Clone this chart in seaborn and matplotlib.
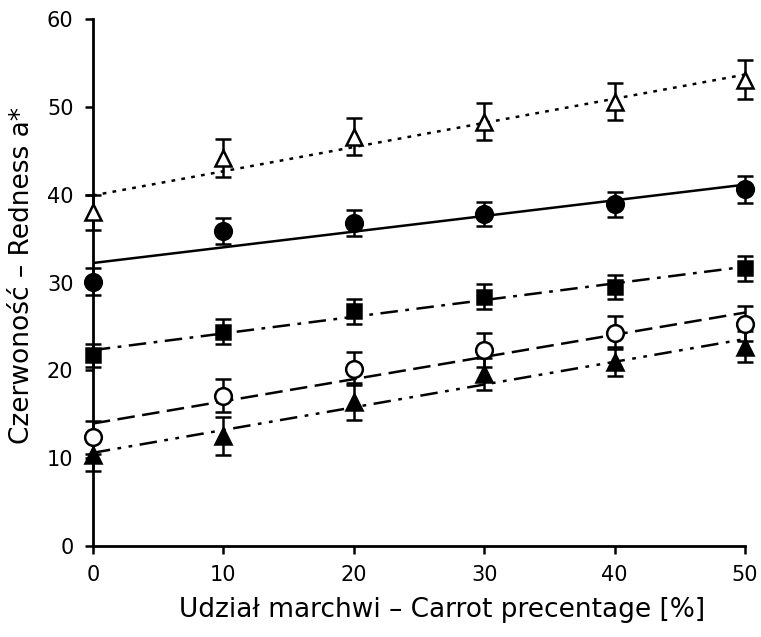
import numpy as np
import pandas as pd
import matplotlib
matplotlib.use("Agg")
import matplotlib.pyplot as plt
import seaborn as sns

# carrot share [%]
carrot = [0, 10, 20, 30, 40, 50]

# redness a* per series (mean and error)
tri_open = [38.0, 44.2, 46.6, 48.3, 50.6, 53.1]
tri_open_err = [2.0, 2.2, 2.1, 2.1, 2.1, 2.2]
circ_fill = [30.1, 35.9, 36.8, 37.8, 38.9, 40.6]
circ_fill_err = [1.5, 1.5, 1.5, 1.4, 1.4, 1.5]
sq_fill = [21.7, 24.4, 26.7, 28.4, 29.5, 31.6]
sq_fill_err = [1.3, 1.4, 1.4, 1.4, 1.4, 1.45]
circ_open = [12.35, 17.1, 20.2, 22.3, 24.3, 25.3]
circ_open_err = [1.9, 1.9, 1.9, 1.9, 1.9, 2.0]
tri_fill = [10.3, 12.5, 16.4, 19.6, 21.0, 22.7]
tri_fill_err = [1.8, 2.2, 2.1, 1.8, 1.7, 1.8]

sns.set_theme(style="white")
plt.rcParams["font.family"] = ["DejaVu Sans"]

fig, ax = plt.subplots(figsize=(7.61, 6.37), dpi=100)
fig.subplots_adjust(left=0.122, right=0.979, top=0.970, bottom=0.143)

# (values, errors, marker, face colour, trend line style, marker size)
series = [
    (tri_open, tri_open_err, "^", "white", (0, (1.5, 2.5)), 11),
    (circ_fill, circ_fill_err, "o", "black", "-", 12),
    (sq_fill, sq_fill_err, "s", "black", (0, (7, 3, 1.5, 3)), 10.5),
    (circ_open, circ_open_err, "o", "white", (0, (7, 3)), 12),
    (tri_fill, tri_fill_err, "^", "black", (0, (7, 3, 1.5, 3, 1.5, 3)), 11),
]

for vals, err, mk, fc, ls, size in series:
    df = pd.DataFrame({"x": carrot, "y": vals})
    # linear trend line fitted by seaborn
    sns.regplot(data=df, x="x", y="y", ax=ax, ci=None, scatter=False, truncate=True,
                line_kws={"color": "black", "linewidth": 1.8, "linestyle": ls})
    ax.errorbar(carrot, vals, yerr=err, fmt=mk, color="black", mfc=fc, mec="black",
                mew=1.8, ms=size, ecolor="black", elinewidth=1.8, capsize=6, capthick=1.8,
                zorder=3, clip_on=False)

ax.set_xlim(0, 50)
ax.set_ylim(0, 60)
ax.set_xticks(range(0, 51, 10))
ax.set_yticks(range(0, 61, 10))
ax.tick_params(axis="both", direction="out", length=6, width=1.8, color="black",
               labelsize=15, pad=8, left=True, bottom=True, labelcolor="black")
for side in ["top", "right"]:
    ax.spines[side].set_visible(False)
for side in ["left", "bottom"]:
    ax.spines[side].set_color("black")
    ax.spines[side].set_linewidth(2)

ax.set_xlabel("Udział marchwi – Carrot precentage [%]", fontsize=19, color="black")
ax.set_ylabel("Czerwoność – Redness a*", fontsize=19, color="black")
ax.xaxis.set_label_coords(0.535, -0.097)
ax.yaxis.set_label_coords(-0.088, 0.514)

fig.savefig("out.png", dpi=100)
